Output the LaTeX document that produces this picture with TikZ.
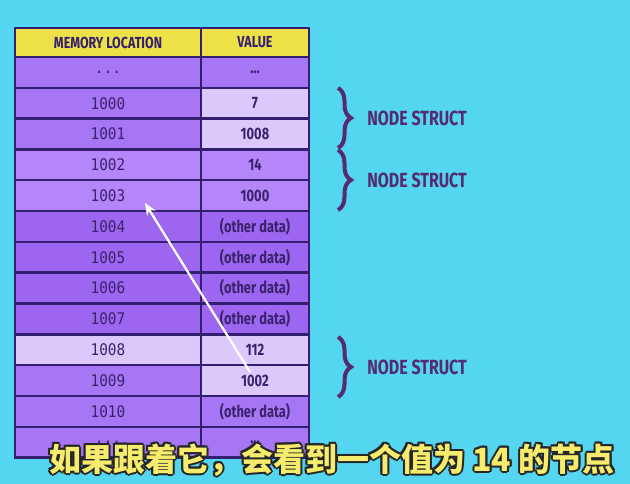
\documentclass[tikz,border=0pt]{standalone}
\usepackage{fontspec}
\usepackage{tikz}
\usetikzlibrary{arrows.meta,positioning,decorations.pathreplacing}
\setmainfont{Fira Sans}
\newfontfamily\condfont{Fira Sans}[FakeStretch=0.78]
\newfontfamily\addrfont{DejaVu Sans Mono}[FakeStretch=0.9]
\newfontfamily\cjk{Noto Sans CJK SC}
\definecolor{sky}{RGB}{84,214,240}
\definecolor{frame}{RGB}{52,30,112}
\definecolor{ink}{RGB}{58,34,108}
\definecolor{hdryellow}{RGB}{236,226,72}
\definecolor{plum}{RGB}{166,118,245}
\definecolor{plumlite}{RGB}{180,134,249}
\definecolor{plumdeep}{RGB}{156,102,240}
\definecolor{lilac}{RGB}{220,200,251}
\definecolor{bracepurple}{RGB}{84,42,112}
\definecolor{subyellow}{RGB}{245,236,110}
\begin{document}
\begin{tikzpicture}[x=1pt, y=-1pt,
  cell/.style={draw=frame, line width=2.4pt, inner sep=0pt, minimum height=30.8pt, text=ink},
  addr/.style={cell, minimum width=186pt, font=\addrfont\fontsize{16}{16}\selectfont},
  val/.style={cell, minimum width=108pt, font=\condfont\bfseries\fontsize{16.5}{16.5}\selectfont},
  hdr/.style={cell, fill=hdryellow, minimum height=29pt, text=frame, font=\condfont\bfseries\fontsize{16}{16}\selectfont},
  brc/.style={decorate, decoration={brace, amplitude=13pt}, draw=bracepurple, line width=4pt},
  brclabel/.style={right=24pt, font=\condfont\bfseries\fontsize{20.5}{20.5}\selectfont, text=bracepurple},
  ptr/.style={-{Stealth[length=12pt, width=10pt]}, draw=white, line width=2.2pt},
  subtitle/.style={font=\cjk\bfseries\fontsize{32}{32}\selectfont}]
% background
\fill[sky] (0,0) rectangle (630,484);
% header row
\node[hdr, minimum width=186pt] (hloc) at (108,42.5) {MEMORY LOCATION};
\node[hdr, minimum width=108pt] (hval) at (255,42.5) {VALUE};
% memory rows
\node[addr, fill=plum] (a0) at (108,72.5) {...};      \node[val, fill=plum] (v0) at (255,72.5) {...};
\node[addr, fill=plum] (a1) at (108,103.3) {1000};    \node[val, fill=lilac] (v1) at (255,103.3) {7};
\node[addr, fill=plum] (a2) at (108,134.1) {1001};    \node[val, fill=lilac] (v2) at (255,134.1) {1008};
\node[addr, fill=plumlite] (a3) at (108,164.9) {1002}; \node[val, fill=plumlite] (v3) at (255,164.9) {14};
\node[addr, fill=plumlite] (a4) at (108,195.7) {1003}; \node[val, fill=plumlite] (v4) at (255,195.7) {1000};
\node[addr, fill=plumdeep] (a5) at (108,226.5) {1004}; \node[val, fill=plumdeep] (v5) at (255,226.5) {(other data)};
\node[addr, fill=plumdeep] (a6) at (108,257.3) {1005}; \node[val, fill=plumdeep] (v6) at (255,257.3) {(other data)};
\node[addr, fill=plumdeep] (a7) at (108,288.1) {1006}; \node[val, fill=plumdeep] (v7) at (255,288.1) {(other data)};
\node[addr, fill=plumdeep] (a8) at (108,318.9) {1007}; \node[val, fill=plumdeep] (v8) at (255,318.9) {(other data)};
\node[addr, fill=lilac] (a9) at (108,349.7) {1008};   \node[val, fill=lilac] (v9) at (255,349.7) {112};
\node[addr, fill=plum] (a10) at (108,380.5) {1009};   \node[val, fill=lilac] (v10) at (255,380.5) {1002};
\node[addr, fill=plum] (a11) at (108,411.3) {1010};   \node[val, fill=plum] (v11) at (255,411.3) {(other data)};
\node[addr, fill=plum] (a12) at (108,442.1) {...};    \node[val, fill=plum] (v12) at (255,442.1) {...};
% braces
\coordinate (b1top) at (338,88);  \coordinate (b1bot) at (338,148);
\coordinate (b2top) at (338,150); \coordinate (b2bot) at (338,210);
\coordinate (b3top) at (338,337); \coordinate (b3bot) at (338,397);
\draw[brc] (b1top) -- (b1bot) node[midway, brclabel] (ns1) {NODE STRUCT};
\draw[brc] (b2top) -- (b2bot) node[midway, brclabel] (ns2) {NODE STRUCT};
\draw[brc] (b3top) -- (b3bot) node[midway, brclabel] (ns3) {NODE STRUCT};
% pointer from 1009 back to 1002
\coordinate (ptrtail) at (250,372);
\coordinate (ptrhead) at (145,203);
\draw[ptr] (ptrtail) -- (ptrhead);
% caption, dark rim then yellow face
\foreach \dx/\dy [count=\k] in {-2/0,2/0,0/-2,0/2,-1.5/-1.5,1.5/-1.5,-1.5/1.5,1.5/1.5}
  \node[subtitle, text=black!85] (capedge\k) at (332+\dx,460+\dy) {如果跟着它，会看到一个值为 14 的节点};
\node[subtitle, text=subyellow] (cap) at (332,460) {如果跟着它，会看到一个值为 14 的节点};
\end{tikzpicture}
\end{document}
